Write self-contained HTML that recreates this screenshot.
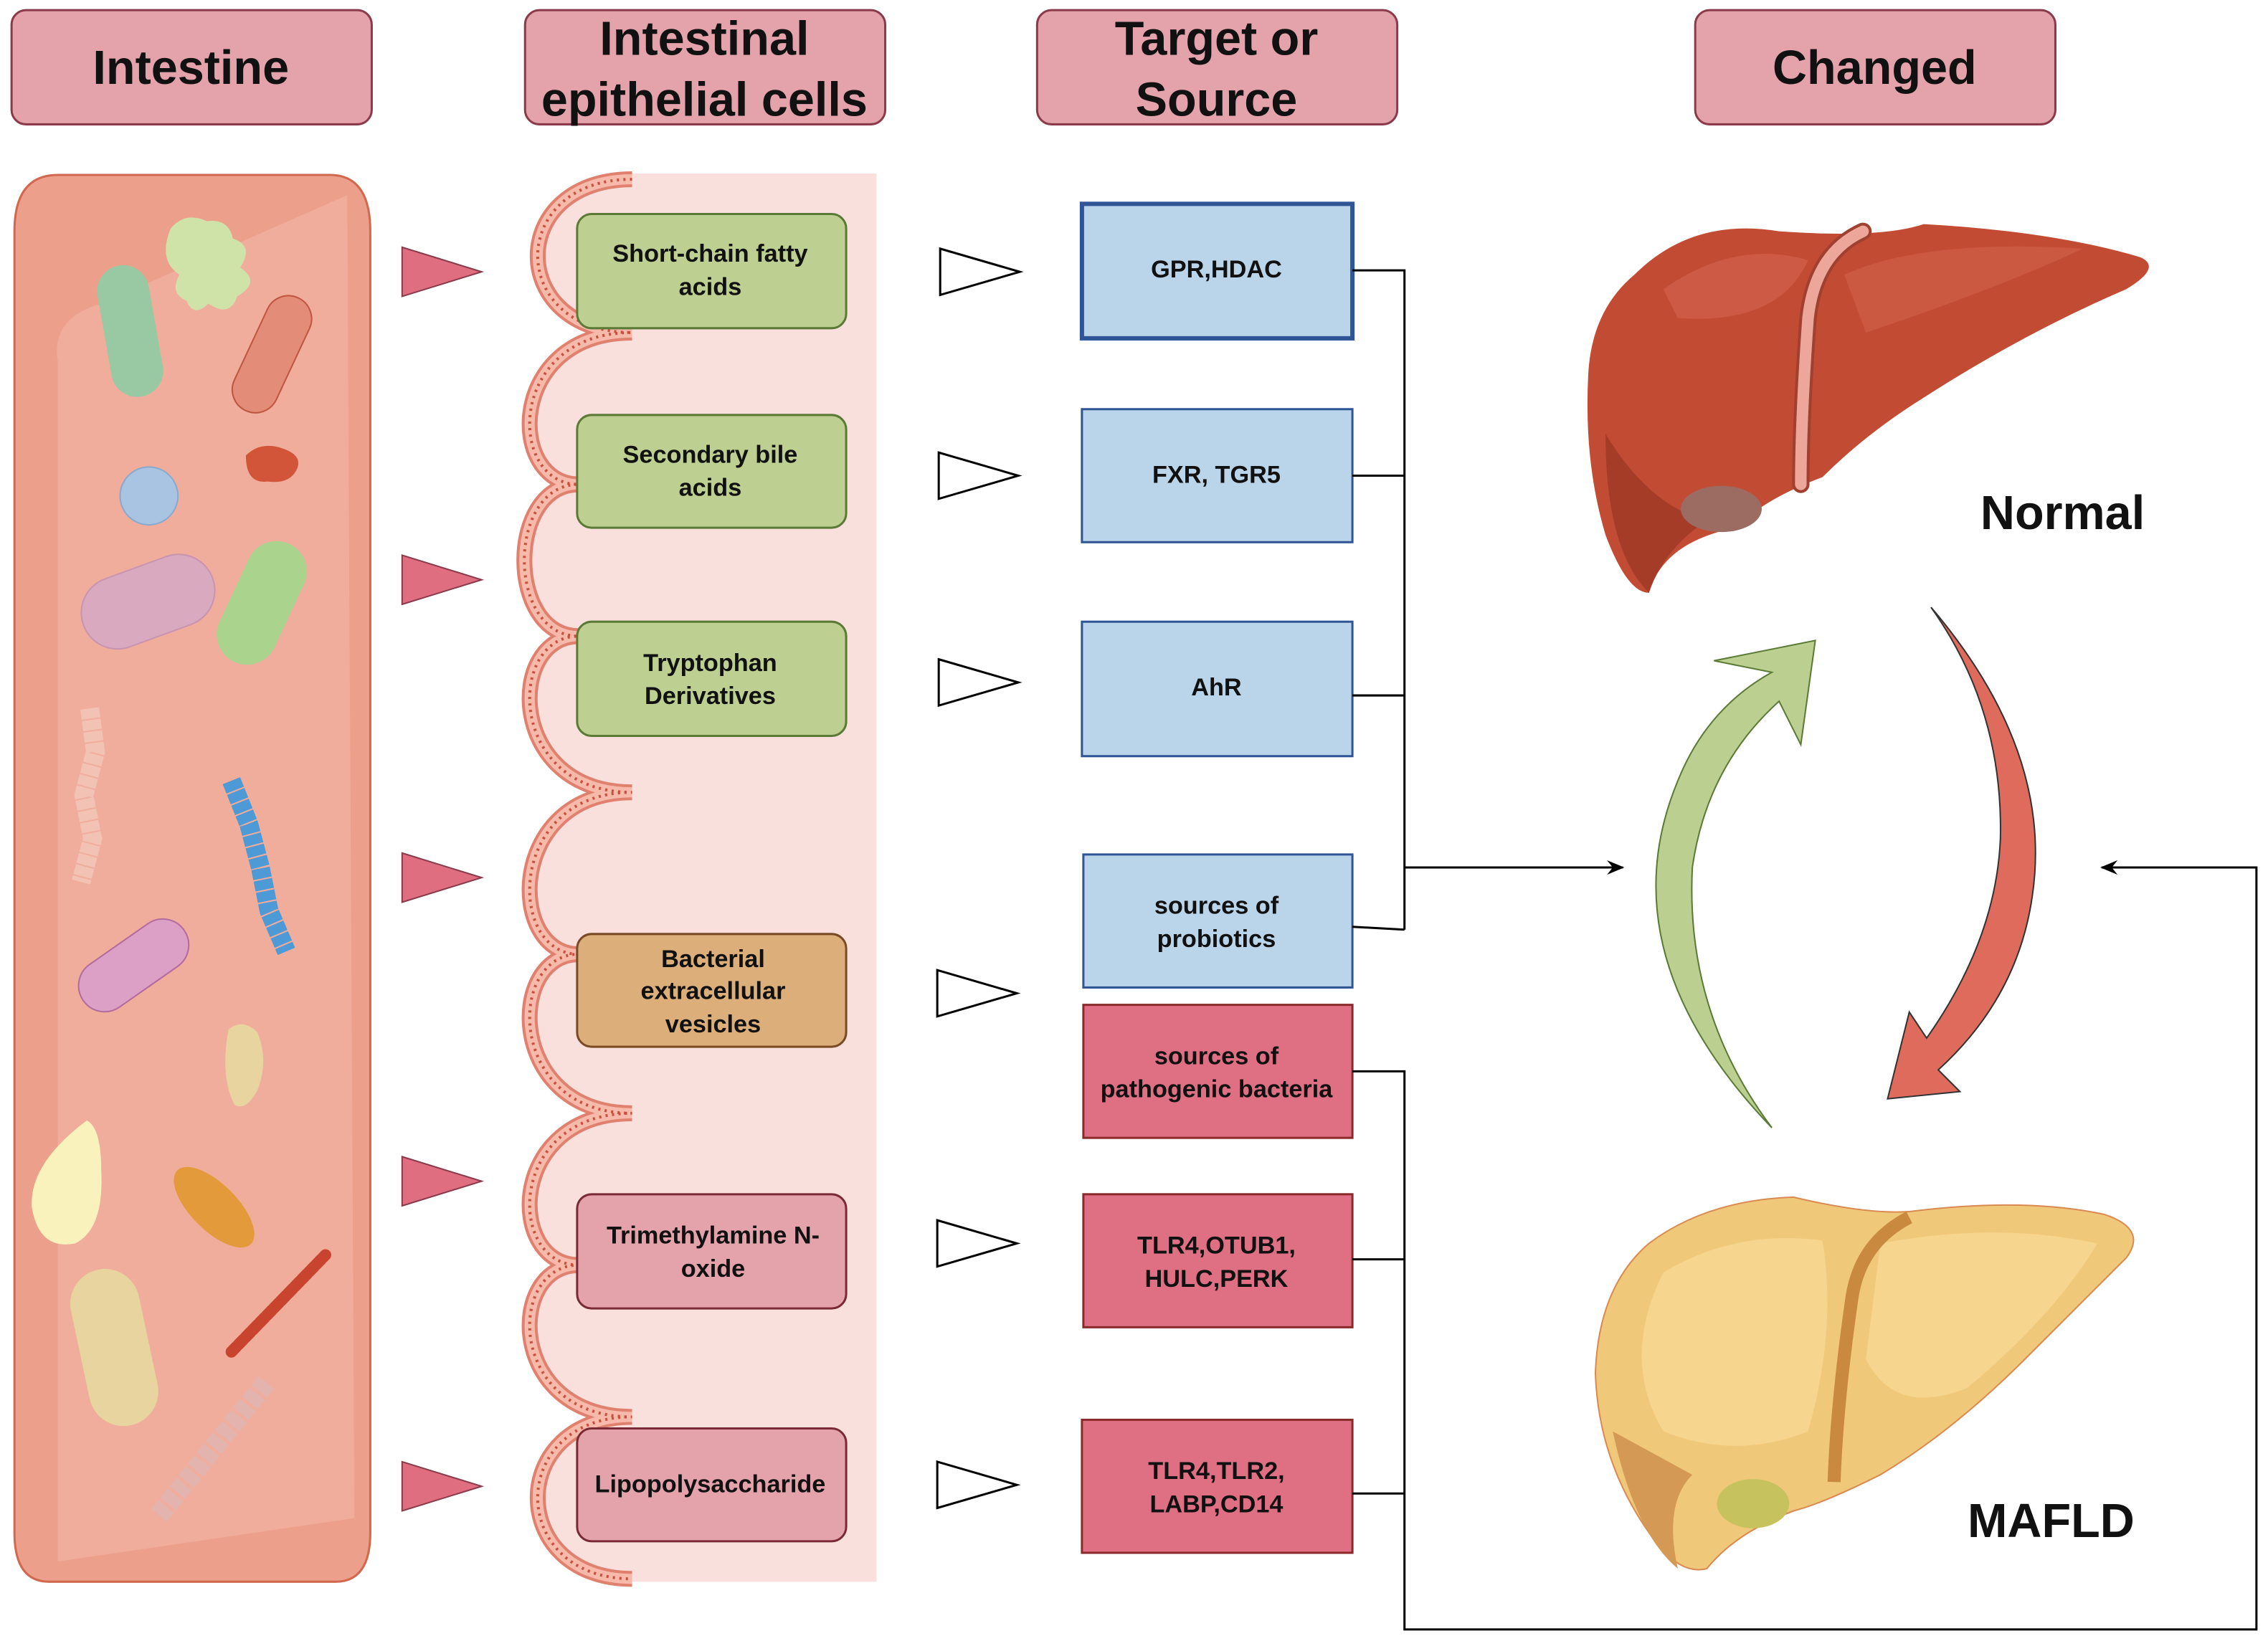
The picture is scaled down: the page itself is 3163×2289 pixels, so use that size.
<!DOCTYPE html>
<html><head><meta charset="utf-8"><style>
html,body{margin:0;padding:0;background:#fff}
svg{display:block}
text{font-family:"Liberation Sans",sans-serif;font-weight:bold;fill:#111}
</style></head><body>
<svg width="3163" height="2289" viewBox="0 0 1568 1135" preserveAspectRatio="none" xmlns="http://www.w3.org/2000/svg">
<defs>
<marker id="ah" markerWidth="12" markerHeight="10" refX="11" refY="5" orient="auto" markerUnits="userSpaceOnUse">
<path d="M0,0 L12,5 L0,10 L4,5 Z" fill="#000"/></marker>
<path id="wv" d="M437,124 C350,124 350,230 437,230 C350,230 350,335 400,335 C350,335 350,440 400,440 C350,440 350,548 437,548 C350,548 350,660 400,660 C350,660 350,770 437,770 C350,770 350,875 400,875 C350,875 350,980 437,980 C350,980 350,1092 437,1092" fill="none"/>
</defs>
<!-- headers -->
<g fill="#e4a3ab" stroke="#8b3a4a" stroke-width="1.5">
<rect x="8" y="7" width="249" height="79" rx="10"/>
<rect x="363" y="7" width="249" height="79" rx="10"/>
<rect x="717" y="7" width="249" height="79" rx="10"/>
<rect x="1172" y="7" width="249" height="79" rx="10"/>
</g>
<g font-size="33" text-anchor="middle">
<text x="132" y="58">Intestine</text>
<text x="487" y="38">Intestinal</text>
<text x="487" y="80">epithelial cells</text>
<text x="841" y="38">Target or</text>
<text x="841" y="80">Source</text>
<text x="1296" y="58">Changed</text>
</g>
<!-- intestine panel -->
<path d="M10,160 Q10,121 40,121 L228,121 Q256,121 256,160 L256,1060 Q256,1094 232,1094 L34,1094 Q10,1094 10,1060 Z" fill="#eca08c" stroke="#d2694f" stroke-width="1.5"/>
<path d="M40,250 Q35,220 70,210 L240,135 L245,1050 L40,1080 Z" fill="#f0ad9c"/>
<!-- bacteria -->
<rect x="72" y="183" width="36" height="92" rx="18" fill="#98c9a3" transform="rotate(-10 90 229)"/>
<path d="M118,158 q10,-12 25,-5 q15,-2 18,12 q15,5 5,20 q15,10 -2,20 q-5,15 -20,5 q-10,10 -15,-2 q-12,-5 -5,-18 q-15,-10 -6,-32z" fill="#cfe3a8"/>
<rect x="172" y="202" width="32" height="86" rx="16" fill="#e38c78" stroke="#c0553f" transform="rotate(25 188 245)"/>
<circle cx="103" cy="343" r="20" fill="#a9c4e2" stroke="#8aa9cc"/>
<path d="M170,315 q10,-10 25,-5 q15,5 10,15 q-5,10 -20,8 q-15,2 -15,-18z" fill="#d2553a"/>
<rect x="55" y="392" width="95" height="50" rx="25" fill="#d9a9c0" stroke="#c894b0" transform="rotate(-20 100 417)"/>
<rect x="160" y="372" width="42" height="90" rx="21" fill="#aad38e" transform="rotate(25 181 417)"/>
<path d="M62,490 L66,520 L58,550 L64,580 L56,610" stroke="#f2c2b5" stroke-width="13" fill="none" stroke-dasharray="7,1"/>
<path d="M160,540 L172,570 L180,600 L186,630 L198,658" stroke="#4d9ad6" stroke-width="13" fill="none" stroke-dasharray="7,1"/>
<rect x="50" y="650" width="85" height="36" rx="18" fill="#dca0c6" stroke="#b26b9d" transform="rotate(-35 92 668)"/>
<path d="M158,712 q10,-8 20,2 q8,20 0,40 q-8,15 -16,10 q-10,-20 -4,-52z" fill="#e8d49e"/>
<path d="M60,775 q-40,30 -38,60 q5,30 30,25 q20,-10 18,-50 q0,-30 -10,-35z" fill="#faf2bd"/>
<ellipse cx="148" cy="835" rx="16" ry="36" fill="#e39a3b" transform="rotate(-45 148 835)"/>
<rect x="55" y="877" width="48" height="110" rx="24" fill="#e8d49e" transform="rotate(-12 79 932)"/>
<path d="M160,935 L225,868" stroke="#c9442e" stroke-width="8" stroke-dasharray="5,2" stroke-linecap="round"/>
<path d="M110,1048 L185,955" stroke="#e3b3ad" stroke-width="14" stroke-dasharray="8,2"/>
<!-- red triangles -->
<g fill="#de6e80" stroke="#8b3a4a" stroke-width="1">
<path d="M278,171 L333,188 L278,205Z"/><path d="M278,384 L333,401 L278,418Z"/><path d="M278,590 L333,607 L278,624Z"/><path d="M278,800 L333,817 L278,834Z"/><path d="M278,1011 L333,1028 L278,1045Z"/>
</g>
<!-- epithelium bg -->
<rect x="365" y="120" width="241" height="974" fill="#f9e0dc"/>
<path d="M437,124 C350,124 350,230 437,230 C350,230 350,335 400,335 C350,335 350,440 400,440 C350,440 350,548 437,548 C350,548 350,660 400,660 C350,660 350,770 437,770 C350,770 350,875 400,875 C350,875 350,980 437,980 C350,980 350,1092 437,1092 L437,1100 L350,1100 L350,115 L437,115 Z" fill="#fff"/>
<use href="#wv" stroke="#e0806f" stroke-width="11"/>
<use href="#wv" stroke="#f7b9aa" stroke-width="7"/>
<use href="#wv" stroke="#c8503f" stroke-width="2" stroke-dasharray="1.5,3"/>
<!-- middle boxes -->
<g stroke-width="1.5">
<rect x="399" y="148" width="186" height="79" rx="10" fill="#bdd091" stroke="#5a7a35"/>
<rect x="399" y="287" width="186" height="78" rx="10" fill="#bdd091" stroke="#5a7a35"/>
<rect x="399" y="430" width="186" height="79" rx="10" fill="#bdd091" stroke="#5a7a35"/>
<rect x="399" y="646" width="186" height="78" rx="10" fill="#dcae79" stroke="#7a4a25"/>
<rect x="399" y="826" width="186" height="79" rx="10" fill="#e4a3ab" stroke="#7a2a35"/>
<rect x="399" y="988" width="186" height="78" rx="10" fill="#e4a3ab" stroke="#7a2a35"/>
</g>
<g font-size="17" text-anchor="middle">
<text x="491" y="181">Short-chain fatty</text><text x="491" y="204">acids</text>
<text x="491" y="320">Secondary bile</text><text x="491" y="343">acids</text>
<text x="491" y="464">Tryptophan</text><text x="491" y="487">Derivatives</text>
<text x="493" y="669">Bacterial</text><text x="493" y="691">extracellular</text><text x="493" y="714">vesicles</text>
<text x="493" y="860">Trimethylamine N-</text><text x="493" y="883">oxide</text>
<text x="491" y="1032">Lipopolysaccharide</text>
</g>
<!-- white triangles -->
<g fill="#fff" stroke="#000" stroke-width="1.5">
<path d="M650,172 L705,188 L650,204Z"/><path d="M649,313 L704,329 L649,345Z"/><path d="M649,456 L704,472 L649,488Z"/><path d="M648,671 L703,687 L648,703Z"/><path d="M648,844 L703,860 L648,876Z"/><path d="M648,1011 L703,1027 L648,1043Z"/>
</g>
<!-- right boxes -->
<rect x="748" y="141" width="187" height="93" fill="#bad4e9" stroke="#2f5597" stroke-width="3"/>
<g fill="#bad4e9" stroke="#2f5597" stroke-width="1.5">
<rect x="748" y="283" width="187" height="92"/><rect x="748" y="430" width="187" height="93"/><rect x="749" y="591" width="186" height="92"/>
</g>
<g fill="#df7084" stroke="#8b2a2a" stroke-width="1.5">
<rect x="749" y="695" width="186" height="92"/><rect x="749" y="826" width="186" height="92"/><rect x="748" y="982" width="187" height="92"/>
</g>
<g font-size="17" text-anchor="middle">
<text x="841" y="192">GPR,HDAC</text>
<text x="841" y="334">FXR, TGR5</text>
<text x="841" y="481">AhR</text>
<text x="841" y="632">sources of</text><text x="841" y="655">probiotics</text>
<text x="841" y="736">sources of</text><text x="841" y="759">pathogenic bacteria</text>
<text x="841" y="867">TLR4,OTUB1,</text><text x="841" y="890">HULC,PERK</text>
<text x="841" y="1023">TLR4,TLR2,</text><text x="841" y="1046">LABP,CD14</text>
</g>
<!-- connectors -->
<g fill="none" stroke="#000" stroke-width="1.5">
<path d="M935,187 H971 V643 M935,329 H971 M935,481 H971 M935,641 L971,643"/>
<path d="M971,600 H1122" marker-end="url(#ah)"/>
<path d="M935,741 H971 V1127 H1560 V600 H1454" />
<path d="M935,871 H971 M935,1033 H971"/>
<path d="M1470,600 H1453" marker-end="url(#ah)"/>
</g>
<!-- normal liver -->
<path d="M1130,190 Q1170,150 1230,160 Q1300,165 1330,155 Q1420,160 1480,178 Q1495,185 1470,200 Q1400,230 1330,275 Q1290,300 1260,330 Q1220,345 1200,365 Q1150,375 1140,410 Q1125,410 1110,370 Q1095,320 1098,260 Q1100,215 1130,190Z" fill="#c24b33"/>
<path d="M1150,200 Q1200,165 1250,180 Q1230,225 1160,220Z" fill="#d1614b" opacity="0.7"/>
<path d="M1275,190 Q1330,165 1440,172 Q1380,200 1290,230Z" fill="#d1614b" opacity="0.6"/>
<path d="M1110,300 Q1110,380 1140,410 Q1150,380 1180,360 Q1140,350 1110,300Z" fill="#a43c28"/>
<ellipse cx="1190" cy="352" rx="28" ry="16" fill="#9c6c62"/>
<path d="M1288,160 Q1255,175 1250,220 Q1245,290 1245,335" fill="none" stroke="#a04030" stroke-width="12" stroke-linecap="round"/>
<path d="M1288,160 Q1255,175 1250,220 Q1245,290 1245,335" fill="none" stroke="#eda79a" stroke-width="8" stroke-linecap="round"/>
<text x="1426" y="366" font-size="33" text-anchor="middle">Normal</text>
<!-- arrows -->
<path d="M1225,780 Q1110,660 1160,540 Q1180,490 1225,465 L1185,457 L1255,443 L1245,515 L1230,485 Q1180,530 1170,600 Q1165,700 1225,780Z" fill="#bbcf91" stroke="#5a7a35" stroke-width="1"/>
<path d="M1335,420 Q1420,520 1405,620 Q1395,690 1340,740 L1355,755 L1305,760 L1320,700 L1332,718 Q1380,650 1383,580 Q1385,490 1335,420Z" fill="#df6b5d" stroke="#333" stroke-width="1"/>
<!-- MAFLD liver -->
<path d="M1140,860 Q1180,830 1240,828 Q1290,840 1320,838 Q1400,828 1455,840 Q1485,850 1470,870 Q1440,900 1400,940 Q1350,990 1300,1020 Q1260,1040 1240,1045 Q1200,1060 1180,1085 Q1160,1090 1140,1060 Q1105,1010 1103,950 Q1105,890 1140,860Z" fill="#f0c87a" stroke="#d98a50" stroke-width="1"/>
<path d="M1150,880 Q1200,850 1260,858 Q1270,920 1250,990 Q1200,1010 1150,990 Q1120,940 1150,880Z" fill="#f6d58e"/>
<path d="M1300,860 Q1380,845 1450,860 Q1420,910 1360,960 Q1310,980 1290,940Z" fill="#f6d58e"/>
<path d="M1320,842 Q1285,860 1280,900 Q1270,970 1268,1025" fill="none" stroke="#c98a40" stroke-width="9"/>
<ellipse cx="1212" cy="1040" rx="25" ry="17" fill="#c6c35f"/>
<path d="M1115,990 Q1130,1060 1160,1085 Q1150,1040 1170,1020Z" fill="#d49a55"/>
<text x="1418" y="1063" font-size="33" text-anchor="middle">MAFLD</text>
</svg>
</body></html>
